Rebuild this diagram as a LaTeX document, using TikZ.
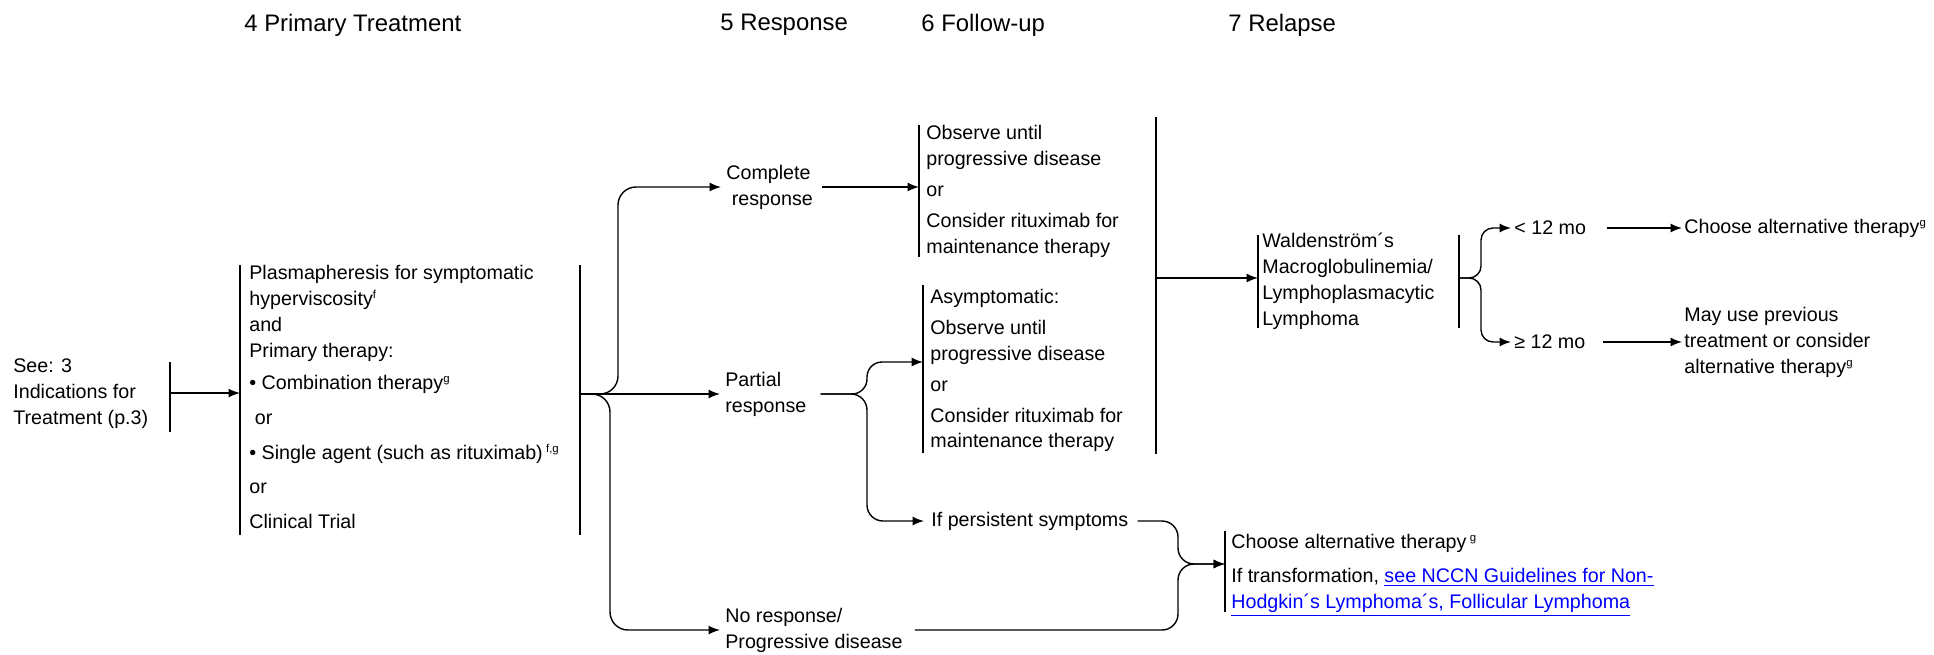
\documentclass[tikz,border=0pt]{standalone}
\usepackage{fontspec}
\setmainfont{Liberation Sans}
\usetikzlibrary{arrows.meta,positioning}
\definecolor{linkblue}{HTML}{0000FF}
\newcommand{\bodyfont}{\fontsize{11.2}{14.75}\selectfont}
\newcommand{\hdrfont}{\fontsize{13.6}{16}\selectfont}
\newcommand{\supr}[1]{\textsuperscript{\fontsize{6.5}{7}\selectfont #1}}
\tikzset{
  txt/.style={inner sep=0pt, align=left, font=\bodyfont},
  hdr/.style={inner sep=0pt, font=\hdrfont, anchor=west},
  bar/.style={line width=0.8pt},
  arr/.style={-{Latex[length=2.3mm,width=1.8mm]}, line width=0.8pt},
  brace/.style={arr, rounded corners=0.36cm},
}

\begin{document}
\begin{tikzpicture}[x=0.02cm, y=-0.02cm]
  \useasboundingbox (0,0) rectangle (1934,654);
  % column headers
  \node[hdr] (h4) at (244,25) {4 Primary Treatment};
  \node[hdr] (h5) at (720,25) {5 Response};
  \node[hdr] (h6) at (921,25) {6 Follow-up};
  \node[hdr] (h7) at (1228,25) {7 Relapse};

  % entry and primary treatment
  \node[txt, anchor=west] (see) at (13,394) {See: 3\\Indications for\\Treatment (p.3)};
  \draw[bar] (170,362) -- (170,432);
  \coordinate (seeR) at (170,393);
  \node[txt, anchor=north west] (prim) at (249,265) {Plasmapheresis for symptomatic\\
    hyperviscosity\supr{f}\\
    and\\
    Primary therapy:\\[3.4pt]
    • Combination therapy\supr{g}\\[5.1pt]
    \hspace*{0.28em}or\\[5.1pt]
    • Single agent (such as rituximab)\,\supr{f,g}\\[5.1pt]
    or\\[5.1pt]
    Clinical Trial};
  \draw[bar] (240,265) -- (240,535);
  \draw[bar] (580,265) -- (580,535);
  \coordinate (primL) at (240,393);
  \coordinate (primR) at (580,394);
  \draw[arr] (seeR) -- (primL);

  % response
  \node[txt, anchor=west] (cresp) at (726,187) {Complete\\\hspace*{0.28em}response};
  \node[txt, anchor=west] (presp) at (725,394) {Partial\\response};
  \node[txt, anchor=west] (nresp) at (725,630) {No response/\\Progressive disease};
  \draw[brace, shorten >=0.1cm] (primR) -- ++(38,0) |- (cresp.west);
  \draw[arr, shorten >=0.1cm] (primR) -- (presp.west);
  \draw[brace, shorten >=0.1cm] (primR) -- ++(30,0) |- (nresp.west);

  % follow-up
  \node[txt, anchor=north west] (fup1) at (926,125) {Observe until\\progressive disease\\[2.8pt]or\\[2.8pt]Consider rituximab for\\maintenance therapy};
  \draw[bar] (919,125) -- (919,257);
  \coordinate (fup1L) at (919,187);
  \draw[arr, shorten <=0.18cm] (cresp.east) -- (fup1L);

  \node[txt, anchor=north west] (fup2) at (930,289) {Asymptomatic:\\[2.8pt]Observe until\\progressive disease\\[2.8pt]or\\[2.8pt]Consider rituximab for\\maintenance therapy};
  \draw[bar] (923,285) -- (923,453);
  \coordinate (fup2L) at (923,362);
  \coordinate (prJ) at (867,394);
  \draw[brace, rounded corners=0.3cm, shorten <=0.28cm] (presp.east) -- (prJ) |- (fup2L);
  \node[txt, anchor=west] (pers) at (931,521) {If persistent symptoms};
  \draw[brace, rounded corners=0.32cm, shorten <=0.28cm, shorten >=0.14cm] (presp.east) -- (prJ) |- (pers.west);

  % relapse
  \draw[bar] (1156,117) -- (1156,454);
  \coordinate (relB) at (1156,278);
  \node[txt, anchor=west] (wm) at (1262,281) {Waldenström´s\\Macroglobulinemia/\\Lymphoplasmacytic\\Lymphoma};
  \draw[bar] (1258,235) -- (1258,328);
  \draw[bar] (1459,235) -- (1459,328);
  \coordinate (wmL) at (1258,278);
  \coordinate (wmR) at (1459,278);
  \draw[arr] (relB) -- (wmL);

  \node[txt, anchor=west] (lt) at (1514,228) {< 12 mo};
  \node[txt, anchor=west] (ge) at (1514,342) {≥ 12 mo};
  \draw[brace, rounded corners=0.24cm, shorten >=0.06cm] (wmR) -- ++(22,0) |- (lt.west);
  \draw[brace, rounded corners=0.24cm, shorten >=0.06cm] (wmR) -- ++(22,0) |- (ge.west);
  \node[txt, anchor=west] (alt1) at (1684,228) {Choose alternative therapy\supr{g}};
  \node[txt, anchor=west] (mayuse) at (1684,342) {May use previous\\treatment or consider\\alternative therapy\supr{g}};
  \draw[arr, shorten <=0.42cm, shorten >=0.04cm] (lt.east) -- (alt1.west);
  \draw[arr, shorten <=0.34cm, shorten >=0.04cm] (ge.east) -- (ge.east -| mayuse.west);

  % no response / persistent symptoms
  \node[txt, anchor=north west] (fin) at (1231,534) {Choose alternative therapy\,\supr{g}\\[4.5pt]
    If transformation, \textcolor{linkblue}{\underline{see NCCN Guidelines for Non-}}\\
    \textcolor{linkblue}{\underline{Hodgkin´s Lymphoma´s, Follicular Lymphoma}}};
  \draw[bar] (1225,531) -- (1225,612);
  \coordinate (finL) at (1225,564);
  \coordinate (finJ) at (1178,564);
  \draw[brace, rounded corners=0.32cm, shorten <=0.18cm] (pers.east) -| (finJ) -- (finL);
  \draw[brace, rounded corners=0.32cm, shorten <=0.24cm] (nresp.east) -| (finJ) -- (finL);
\end{tikzpicture}
\end{document}
